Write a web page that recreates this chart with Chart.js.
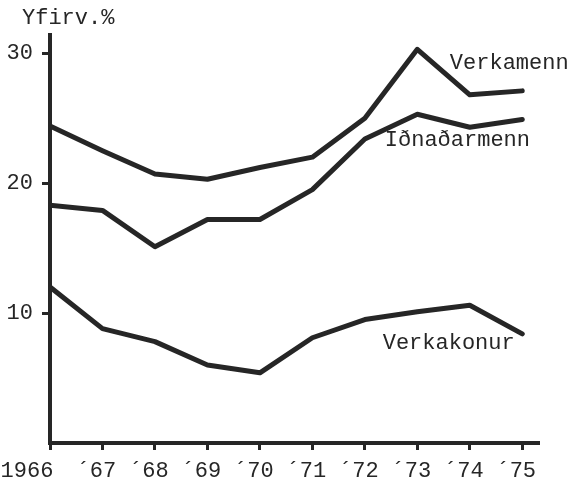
<!DOCTYPE html>
<html>
<head>
<meta charset="utf-8">
<script src="https://cdn.jsdelivr.net/npm/chart.js@4/dist/chart.umd.min.js"></script>
<style>
  html, body { margin: 0; padding: 0; background: #fff; }
  #wrap { width: 573px; height: 484px; position: relative; }
</style>
</head>
<body>
<div id="wrap"><canvas id="chart"></canvas></div>
<script>
// ár og gildi lesin af myndinni
const years = [1966, 1967, 1968, 1969, 1970, 1971, 1972, 1973, 1974, 1975];
const yearLabels = ['1966', '´67', '´68', '´69', '´70', '´71', '´72', '´73', '´74', '´75'];
const verkamenn = [24.4, 22.5, 20.7, 20.3, 21.2, 22.0, 25.0, 30.3, 26.8, 27.1];
const idnadarmenn = [18.3, 17.9, 15.1, 17.2, 17.2, 19.5, 23.4, 25.3, 24.3, 24.9];
const verkakonur = [12.0, 8.8, 7.8, 6.0, 5.4, 8.1, 9.5, 10.1, 10.6, 8.4];
const yTicks = [10, 20, 30];
const yTitle = 'Yfirv.%';
// nafn línu, staður (ár, gildi) fyrir vinstri brún textans
const seriesNames = [
    { text: 'Verkamenn', year: 1973.62, value: 29.2 },
    { text: 'Iðnaðarmenn', year: 1972.38, value: 23.3 },
    { text: 'Verkakonur', year: 1972.34, value: 7.7 }
];

const ink = '#262626';
const fontFamily = '"Liberation Mono", "DejaVu Sans Mono", monospace';
const toPoints = arr => arr.map((v, i) => ({ x: years[i], y: v }));

function lineSet(label, data) {
    return {
        label: label,
        data: toPoints(data),
        borderColor: ink,
        borderWidth: 5,
        pointRadius: 0,
        tension: 0,
        borderJoinStyle: 'round',
        borderCapStyle: 'round'
    };
}

// teiknar x-merkingar, heiti lína og einingu
const textPlugin = {
    id: 'texts',
    afterDraw(chart) {
        const ctx = chart.ctx;
        const xs = chart.scales.x;
        const ys = chart.scales.y;
        ctx.save();
        ctx.fillStyle = ink;
        ctx.font = '22px ' + fontFamily;
        ctx.textBaseline = 'middle';

        ctx.textAlign = 'center';
        yearLabels.forEach((lab, i) => {
            const shift = i === 0 ? -23 : -6;
            ctx.fillText(lab, xs.getPixelForValue(years[i]) + shift, chart.chartArea.bottom + 28);
        });

        ctx.textAlign = 'left';
        seriesNames.forEach(s => {
            ctx.fillText(s.text, xs.getPixelForValue(s.year), ys.getPixelForValue(s.value));
        });

        ctx.fillText(yTitle, chart.chartArea.left - 28, chart.chartArea.top - 17);
        ctx.restore();
    }
};

new Chart(document.getElementById('chart'), {
    type: 'line',
    data: {
        datasets: [
            lineSet('Verkamenn', verkamenn),
            lineSet('Iðnaðarmenn', idnadarmenn),
            lineSet('Verkakonur', verkakonur)
        ]
    },
    options: {
        responsive: true,
        maintainAspectRatio: false,
        animation: false,
        layout: { padding: { left: 0, top: 35, right: 35, bottom: 0 } },
        plugins: { legend: { display: false }, tooltip: { enabled: false } },
        scales: {
            x: {
                type: 'linear',
                min: 1966,
                max: 1975.3,
                afterBuildTicks: scale => { scale.ticks = years.map(v => ({ value: v })); },
                afterFit: scale => { scale.height = 41; },
                ticks: { display: false },
                grid: { drawOnChartArea: false, drawTicks: true, tickLength: 7, lineWidth: 3, color: ink },
                border: { display: true, width: 4, color: ink }
            },
            y: {
                min: 0,
                max: 31.4,
                afterBuildTicks: scale => { scale.ticks = yTicks.map(v => ({ value: v })); },
                afterFit: scale => { scale.width = 50; },
                ticks: {
                    color: ink,
                    padding: 9,
                    font: { family: fontFamily, size: 22 }
                },
                grid: { drawOnChartArea: false, drawTicks: true, tickLength: 8, lineWidth: 3, color: ink },
                border: { display: true, width: 4, color: ink }
            }
        }
    },
    plugins: [textPlugin]
});
</script>
</body>
</html>
